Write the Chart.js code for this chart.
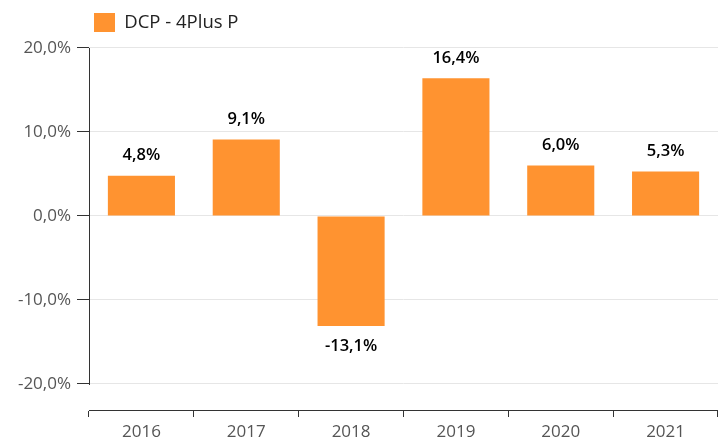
<!DOCTYPE html>
<html>
<head>
<meta charset="utf-8">
<script src="https://cdn.jsdelivr.net/npm/chart.js@4/dist/chart.umd.min.js"></script>
<style>
html,body{margin:0;padding:0;background:#fff;}
#wrap{width:718px;height:441px;position:relative;}
</style>
</head>
<body>
<div id="wrap"><canvas id="c" width="718" height="441"></canvas></div>
<script>
const categories = ['2016','2017','2018','2019','2020','2021'];
const seriesName = 'DCP - 4Plus P';
const seriesValues = [4.8, 9.1, -13.1, 16.4, 6.0, 5.3];
const yTicks = [-20, -10, 0, 10, 20];

const fmt = v => v.toFixed(1).replace('.', ',') + '%';

const yAxisLine = {
  id: 'yAxisLine',
  afterDraw(chart) {
    const y = chart.scales.y, ctx = chart.ctx;
    const x = chart.chartArea.left;
    ctx.save();
    ctx.strokeStyle = '#333';
    ctx.lineWidth = 1;
    ctx.beginPath();
    ctx.moveTo(Math.round(x) + 0.5, Math.round(y.getPixelForValue(yTicks[yTicks.length-1])));
    ctx.lineTo(Math.round(x) + 0.5, Math.round(y.getPixelForValue(yTicks[0])) + 1);
    ctx.stroke();
    ctx.restore();
  }
};

const dataLabels = {
  id: 'dataLabels',
  afterDatasetsDraw(chart) {
    const ctx = chart.ctx;
    const meta = chart.getDatasetMeta(0);
    ctx.save();
    ctx.font = '600 16.5px "Open Sans"';
    ctx.fillStyle = '#000';
    ctx.textAlign = 'center';
    ctx.textBaseline = 'middle';
    meta.data.forEach((bar, i) => {
      const v = chart.data.datasets[0].data[i];
      const yy = v >= 0 ? bar.y - 20 : bar.y + 20;
      ctx.fillText(fmt(v), bar.x, yy);
    });
    ctx.restore();
  }
};

new Chart(document.getElementById('c'), {
  type: 'bar',
  data: {
    labels: categories,
    datasets: [{
      label: seriesName,
      data: seriesValues,
      backgroundColor: '#ff9330',
      borderWidth: 0,
      categoryPercentage: 1,
      barPercentage: 0.64
    }]
  },
  options: {
    responsive: false,
    animation: false,
    layout: { padding: { top: 8, right: 0, left: 0, bottom: 0 } },
    plugins: {
      tooltip: { enabled: false },
      legend: {
        position: 'top',
        align: 'start',
        fullSize: false,
        labels: {
          boxWidth: 21,
          boxHeight: 19,
          padding: 5,
          color: '#222',
          font: { family: '"Open Sans"', size: 18.5 }
        }
      }
    },
    scales: {
      x: {
        grid: { offset: true, drawOnChartArea: false, tickLength: 7, tickColor: '#333' },
        border: { display: true, color: '#333', width: 1 },
        ticks: { color: '#555', padding: 5, font: { family: '"Open Sans"', size: 17 } },
        afterFit(s) { s.height = 31; }
      },
      y: {
        min: -23.1,
        max: 20.71,
        afterBuildTicks(s) { s.ticks = yTicks.map(v => ({ value: v })); },
        grid: { color: '#e6e6e6', tickColor: '#333', tickLength: 12, lineWidth: 1 },
        border: { display: false },
        ticks: { color: '#555', padding: 6, font: { family: '"Open Sans"', size: 17 }, callback: v => fmt(v) },
        afterFit(s) { s.width = 89; }
      }
    }
  },
  plugins: [yAxisLine, dataLabels]
});
</script>
</body>
</html>
